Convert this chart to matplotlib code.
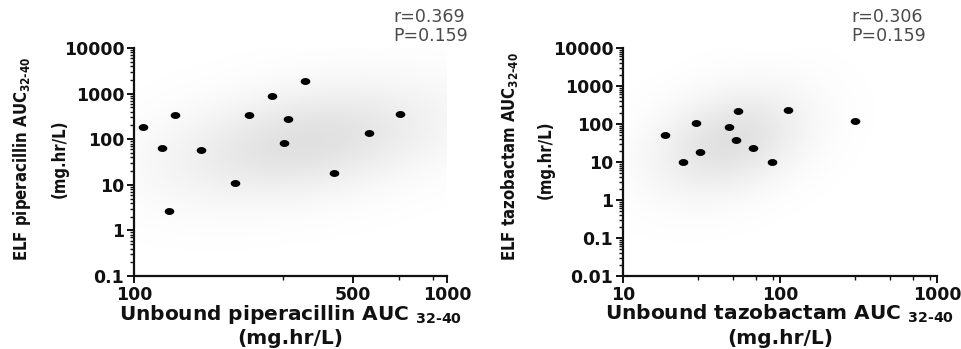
import numpy as np
import matplotlib
matplotlib.use("Agg")
import matplotlib.pyplot as plt
from matplotlib import font_manager as fm
from matplotlib.colors import LinearSegmentedColormap
from matplotlib.path import Path
from matplotlib.ticker import FixedLocator, LogLocator, NullFormatter, FixedFormatter

# ---- data -------------------------------------------------------------
pip_unbound_auc = [107, 123, 129, 135, 164, 210, 233, 275, 301, 310, 352, 437, 563, 710]
pip_elf_auc = [188, 63, 2.7, 340, 58, 11, 340, 885, 83, 277, 1860, 18.4, 134, 360]

taz_unbound_auc = [18.5, 24.2, 29, 31, 47.5, 53.7, 52.5, 67.6, 89, 112, 300]
taz_elf_auc = [51, 9.8, 108, 18.3, 85, 220, 37, 24, 10.2, 234, 120]

pip_stats = ["r=0.369", "P=0.159"]
taz_stats = ["r=0.306", "P=0.159"]

pip_xticks = [100, 500, 1000]
pip_yticks = [0.1, 1, 10, 100, 1000, 10000]
taz_xticks = [10, 100, 1000]
taz_yticks = [0.01, 0.1, 1, 10, 100, 1000, 10000]

# simulated-population cloud: centre / spread in log10 units (x, y), correlation
pip_cloud = dict(cx=2.55, cy=1.95, sx=0.30, sy=0.85, rho=0.35)
taz_cloud = dict(cx=1.68, cy=1.55, sx=0.33, sy=0.95, rho=0.3)

# ---- fonts ------------------------------------------------------------
def find_narrow_bold():
    wanted = ["LiberationSansNarrow-Bold", "DejaVuSansCondensed-Bold",
              "RobotoCondensed-Bold", "OpenSans_Condensed-Bold",
              "OpenSansCondensed-Bold", "NotoSans-CondensedBold",
              "NotoSansDisplay-CondensedBold"]
    files = [f.fname for f in fm.fontManager.ttflist]
    for w in wanted:
        for f in files:
            if w.lower() in f.lower().replace(" ", ""):
                return fm.FontProperties(fname=f)
    for f in fm.fontManager.ttflist:
        if f.stretch in ("condensed", "semi-condensed", "extra-condensed") and \
                f.weight in (700, "bold") and f.name in ("DejaVu Sans", "Liberation Sans",
                                                         "Roboto", "Open Sans", "Noto Sans"):
            return fm.FontProperties(fname=f.fname)
    return None


narrow_fp = find_narrow_bold()
plt.rcParams["font.family"] = ["DejaVu Sans"]
plt.rcParams["mathtext.fontset"] = "dejavusans"

W, H = 961, 349
fig = plt.figure(figsize=(W / 100, H / 100), dpi=100)


def px_rect(x0, y0, x1, y1):
    return [x0 / W, 1 - y1 / H, (x1 - x0) / W, (y1 - y0) / H]


def fx(px):
    return px / W


def fy(py):
    return 1 - py / H


cloud_cmap = LinearSegmentedColormap.from_list("cloud", ["#ffffff", "#e0e0e0"])

# slightly flattened dot marker
t = np.linspace(0, 2 * np.pi, 40)
dot = Path(np.column_stack([np.cos(t), 0.72 * np.sin(t)]), closed=True)


def draw_cloud(ax, xlim, ylim, p):
    lx = np.linspace(np.log10(xlim[0]), np.log10(xlim[1]), 300)
    ly = np.linspace(np.log10(ylim[0]), np.log10(ylim[1]), 300)
    LX, LY = np.meshgrid(lx, ly)
    u = (LX - p["cx"]) / p["sx"]
    v = (LY - p["cy"]) / p["sy"]
    r = p["rho"]
    z = np.exp(-(u * u - 2 * r * u * v + v * v) / (2 * (1 - r * r)))
    ax.pcolormesh(10 ** lx, 10 ** ly, z, cmap=cloud_cmap, vmin=0, vmax=1,
                  shading="auto", zorder=0, rasterized=True)


def style_axis(ax, xlim, ylim, xt, yt, xminor):
    ax.set_xscale("log")
    ax.set_yscale("log")
    ax.set_xlim(*xlim)
    ax.set_ylim(*ylim)
    for s in ("top", "right"):
        ax.spines[s].set_visible(False)
    for s in ("left", "bottom"):
        ax.spines[s].set_linewidth(1.6)
        ax.spines[s].set_color("#111111")
    ax.xaxis.set_major_locator(FixedLocator(xt))
    ax.xaxis.set_major_formatter(FixedFormatter([f"{v:g}" for v in xt]))
    ax.xaxis.set_minor_locator(FixedLocator(xminor))
    ax.xaxis.set_minor_formatter(NullFormatter())
    ax.yaxis.set_major_locator(FixedLocator(yt))
    ax.yaxis.set_major_formatter(FixedFormatter([f"{v:g}" for v in yt]))
    ax.yaxis.set_minor_locator(LogLocator(base=10, subs=np.arange(2, 10), numticks=20))
    ax.yaxis.set_minor_formatter(NullFormatter())
    ax.tick_params(which="major", length=5, width=1.4, color="#111111",
                   labelsize=12.5, pad=2)
    ax.tick_params(which="minor", length=3, width=1.0, color="#111111")
    for lab in ax.get_xticklabels() + ax.get_yticklabels():
        lab.set_fontweight("bold")
        lab.set_color("#111111")
    ax.set_facecolor("none")


# ---- left panel: piperacillin ----------------------------------------
ax1 = fig.add_axes(px_rect(134, 48, 447, 276))
xl1, yl1 = (100, 1000), (0.1, 10000)
draw_cloud(ax1, xl1, yl1, pip_cloud)
ax1.scatter(pip_unbound_auc, pip_elf_auc, s=48, marker=dot, color="black",
            linewidths=0, zorder=3, clip_on=False)
style_axis(ax1, xl1, yl1, pip_xticks, pip_yticks, [300, 500, 700, 900])

# ---- right panel: tazobactam -----------------------------------------
ax2 = fig.add_axes(px_rect(623, 48, 937, 276))
xl2, yl2 = (10, 1000), (0.01, 10000)
draw_cloud(ax2, xl2, yl2, taz_cloud)
ax2.scatter(taz_unbound_auc, taz_elf_auc, s=48, marker=dot, color="black",
            linewidths=0, zorder=3, clip_on=False)
style_axis(ax2, xl2, yl2, taz_xticks, taz_yticks, [30, 50, 70, 90, 300, 500, 700, 900])

# ---- labels ------------------------------------------------------------
lab_kw = dict(fontsize=14.5, fontweight="bold", color="#111111")
if narrow_fp is not None:
    ylab_kw = dict(fontproperties=narrow_fp, fontsize=12)
else:
    ylab_kw = dict(family="DejaVu Sans", fontweight="bold", fontsize=11.5)
ylab_kw.update(color="#111111", rotation=90, ha="center", va="center")

sub = "\u201032\u201040"[1:]  # "32‐40" with typographic hyphen
sub = "32\u201040"

for ax, name, cx in ((ax1, "piperacillin", 290), (ax2, "tazobactam", 780)):
    fig.text(fx(cx), fy(314), f"Unbound {name} AUC $_{{\\mathregular{{{sub}}}}}$",
             ha="center", va="center", **lab_kw)
    fig.text(fx(cx), fy(338), "(mg.hr/L)", ha="center", va="center", **lab_kw)

fig.text(fx(22), fy(159), f"ELF piperacillin AUC$_{{\\mathregular{{{sub}}}}}$", **ylab_kw)
fig.text(fx(60), fy(159), "(mg.hr/L)", **ylab_kw)
fig.text(fx(510), fy(157), f"ELF tazobactam AUC$_{{\\mathregular{{{sub}}}}}$", **ylab_kw)
fig.text(fx(546), fy(160), "(mg.hr/L)", **ylab_kw)

# correlation statistics
for x0, stats in ((393, pip_stats), (851, taz_stats)):
    fig.text(fx(x0), fy(17), stats[0], fontsize=12.5, color="#4a4a4a", va="center")
    fig.text(fx(x0), fy(36), stats[1], fontsize=12.5, color="#4a4a4a", va="center")

fig.savefig("out.png", dpi=100, facecolor="white")
